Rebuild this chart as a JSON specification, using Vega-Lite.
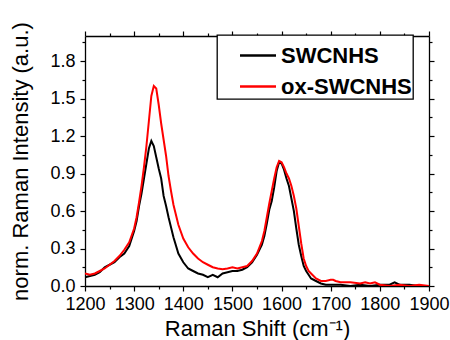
{
  "$schema": "https://vega.github.io/schema/vega-lite/v6.json",
  "width": 344,
  "height": 250,
  "autosize": {"type": "none"},
  "padding": {"left": 85, "top": 36, "right": 21, "bottom": 54},
  "background": "white",
  "config": {
    "view": {"stroke": null},
    "font": "Liberation Sans",
    "axis": {
      "labelFont": "Liberation Sans",
      "titleFont": "Liberation Sans",
      "labelFontSize": 18,
      "titleFontSize": 22,
      "titleFontWeight": "normal",
      "labelColor": "#000",
      "titleColor": "#000",
      "domainColor": "#000",
      "domainWidth": 1.3,
      "tickColor": "#000",
      "tickWidth": 1.2,
      "grid": false
    },
    "legend": {
      "labelFont": "Liberation Sans"
    }
  },
  "data": {
    "values": [
      {"shift": 1200, "intensity": 0.07, "series": "SWCNHS"},
      {"shift": 1210, "intensity": 0.08, "series": "SWCNHS"},
      {"shift": 1220, "intensity": 0.09, "series": "SWCNHS"},
      {"shift": 1230, "intensity": 0.11, "series": "SWCNHS"},
      {"shift": 1240, "intensity": 0.15, "series": "SWCNHS"},
      {"shift": 1250, "intensity": 0.17, "series": "SWCNHS"},
      {"shift": 1260, "intensity": 0.19, "series": "SWCNHS"},
      {"shift": 1270, "intensity": 0.23, "series": "SWCNHS"},
      {"shift": 1280, "intensity": 0.26, "series": "SWCNHS"},
      {"shift": 1290, "intensity": 0.32, "series": "SWCNHS"},
      {"shift": 1300, "intensity": 0.44, "series": "SWCNHS"},
      {"shift": 1305, "intensity": 0.52, "series": "SWCNHS"},
      {"shift": 1310, "intensity": 0.64, "series": "SWCNHS"},
      {"shift": 1315, "intensity": 0.74, "series": "SWCNHS"},
      {"shift": 1320, "intensity": 0.86, "series": "SWCNHS"},
      {"shift": 1325, "intensity": 0.98, "series": "SWCNHS"},
      {"shift": 1330, "intensity": 1.10, "series": "SWCNHS"},
      {"shift": 1335, "intensity": 1.16, "series": "SWCNHS"},
      {"shift": 1340, "intensity": 1.12, "series": "SWCNHS"},
      {"shift": 1345, "intensity": 1.03, "series": "SWCNHS"},
      {"shift": 1350, "intensity": 0.94, "series": "SWCNHS"},
      {"shift": 1355, "intensity": 0.86, "series": "SWCNHS"},
      {"shift": 1360, "intensity": 0.72, "series": "SWCNHS"},
      {"shift": 1365, "intensity": 0.64, "series": "SWCNHS"},
      {"shift": 1370, "intensity": 0.55, "series": "SWCNHS"},
      {"shift": 1380, "intensity": 0.39, "series": "SWCNHS"},
      {"shift": 1390, "intensity": 0.26, "series": "SWCNHS"},
      {"shift": 1400, "intensity": 0.19, "series": "SWCNHS"},
      {"shift": 1410, "intensity": 0.14, "series": "SWCNHS"},
      {"shift": 1420, "intensity": 0.12, "series": "SWCNHS"},
      {"shift": 1430, "intensity": 0.10, "series": "SWCNHS"},
      {"shift": 1440, "intensity": 0.09, "series": "SWCNHS"},
      {"shift": 1450, "intensity": 0.07, "series": "SWCNHS"},
      {"shift": 1460, "intensity": 0.09, "series": "SWCNHS"},
      {"shift": 1470, "intensity": 0.07, "series": "SWCNHS"},
      {"shift": 1480, "intensity": 0.10, "series": "SWCNHS"},
      {"shift": 1490, "intensity": 0.11, "series": "SWCNHS"},
      {"shift": 1500, "intensity": 0.12, "series": "SWCNHS"},
      {"shift": 1510, "intensity": 0.12, "series": "SWCNHS"},
      {"shift": 1520, "intensity": 0.13, "series": "SWCNHS"},
      {"shift": 1530, "intensity": 0.15, "series": "SWCNHS"},
      {"shift": 1540, "intensity": 0.19, "series": "SWCNHS"},
      {"shift": 1550, "intensity": 0.25, "series": "SWCNHS"},
      {"shift": 1560, "intensity": 0.33, "series": "SWCNHS"},
      {"shift": 1565, "intensity": 0.40, "series": "SWCNHS"},
      {"shift": 1570, "intensity": 0.50, "series": "SWCNHS"},
      {"shift": 1575, "intensity": 0.61, "series": "SWCNHS"},
      {"shift": 1580, "intensity": 0.68, "series": "SWCNHS"},
      {"shift": 1585, "intensity": 0.79, "series": "SWCNHS"},
      {"shift": 1590, "intensity": 0.92, "series": "SWCNHS"},
      {"shift": 1595, "intensity": 0.99, "series": "SWCNHS"},
      {"shift": 1600, "intensity": 0.98, "series": "SWCNHS"},
      {"shift": 1605, "intensity": 0.93, "series": "SWCNHS"},
      {"shift": 1610, "intensity": 0.86, "series": "SWCNHS"},
      {"shift": 1615, "intensity": 0.80, "series": "SWCNHS"},
      {"shift": 1620, "intensity": 0.70, "series": "SWCNHS"},
      {"shift": 1625, "intensity": 0.60, "series": "SWCNHS"},
      {"shift": 1630, "intensity": 0.46, "series": "SWCNHS"},
      {"shift": 1635, "intensity": 0.33, "series": "SWCNHS"},
      {"shift": 1640, "intensity": 0.24, "series": "SWCNHS"},
      {"shift": 1645, "intensity": 0.16, "series": "SWCNHS"},
      {"shift": 1650, "intensity": 0.12, "series": "SWCNHS"},
      {"shift": 1655, "intensity": 0.09, "series": "SWCNHS"},
      {"shift": 1660, "intensity": 0.06, "series": "SWCNHS"},
      {"shift": 1670, "intensity": 0.04, "series": "SWCNHS"},
      {"shift": 1680, "intensity": 0.02, "series": "SWCNHS"},
      {"shift": 1690, "intensity": 0.01, "series": "SWCNHS"},
      {"shift": 1700, "intensity": 0.01, "series": "SWCNHS"},
      {"shift": 1720, "intensity": 0.01, "series": "SWCNHS"},
      {"shift": 1740, "intensity": 0.00, "series": "SWCNHS"},
      {"shift": 1760, "intensity": 0.01, "series": "SWCNHS"},
      {"shift": 1780, "intensity": 0.00, "series": "SWCNHS"},
      {"shift": 1800, "intensity": 0.01, "series": "SWCNHS"},
      {"shift": 1820, "intensity": 0.01, "series": "SWCNHS"},
      {"shift": 1830, "intensity": 0.03, "series": "SWCNHS"},
      {"shift": 1840, "intensity": 0.01, "series": "SWCNHS"},
      {"shift": 1860, "intensity": 0.01, "series": "SWCNHS"},
      {"shift": 1880, "intensity": 0.00, "series": "SWCNHS"},
      {"shift": 1900, "intensity": 0.00, "series": "SWCNHS"},
      {"shift": 1200, "intensity": 0.10, "series": "ox-SWCNHS"},
      {"shift": 1210, "intensity": 0.09, "series": "ox-SWCNHS"},
      {"shift": 1220, "intensity": 0.10, "series": "ox-SWCNHS"},
      {"shift": 1230, "intensity": 0.12, "series": "ox-SWCNHS"},
      {"shift": 1240, "intensity": 0.14, "series": "ox-SWCNHS"},
      {"shift": 1250, "intensity": 0.17, "series": "ox-SWCNHS"},
      {"shift": 1260, "intensity": 0.20, "series": "ox-SWCNHS"},
      {"shift": 1270, "intensity": 0.24, "series": "ox-SWCNHS"},
      {"shift": 1280, "intensity": 0.29, "series": "ox-SWCNHS"},
      {"shift": 1290, "intensity": 0.35, "series": "ox-SWCNHS"},
      {"shift": 1300, "intensity": 0.46, "series": "ox-SWCNHS"},
      {"shift": 1305, "intensity": 0.55, "series": "ox-SWCNHS"},
      {"shift": 1310, "intensity": 0.67, "series": "ox-SWCNHS"},
      {"shift": 1315, "intensity": 0.80, "series": "ox-SWCNHS"},
      {"shift": 1320, "intensity": 0.95, "series": "ox-SWCNHS"},
      {"shift": 1325, "intensity": 1.12, "series": "ox-SWCNHS"},
      {"shift": 1330, "intensity": 1.32, "series": "ox-SWCNHS"},
      {"shift": 1335, "intensity": 1.52, "series": "ox-SWCNHS"},
      {"shift": 1340, "intensity": 1.60, "series": "ox-SWCNHS"},
      {"shift": 1345, "intensity": 1.58, "series": "ox-SWCNHS"},
      {"shift": 1350, "intensity": 1.45, "series": "ox-SWCNHS"},
      {"shift": 1355, "intensity": 1.30, "series": "ox-SWCNHS"},
      {"shift": 1360, "intensity": 1.17, "series": "ox-SWCNHS"},
      {"shift": 1365, "intensity": 1.04, "series": "ox-SWCNHS"},
      {"shift": 1370, "intensity": 0.88, "series": "ox-SWCNHS"},
      {"shift": 1375, "intensity": 0.76, "series": "ox-SWCNHS"},
      {"shift": 1380, "intensity": 0.65, "series": "ox-SWCNHS"},
      {"shift": 1390, "intensity": 0.49, "series": "ox-SWCNHS"},
      {"shift": 1400, "intensity": 0.38, "series": "ox-SWCNHS"},
      {"shift": 1410, "intensity": 0.31, "series": "ox-SWCNHS"},
      {"shift": 1420, "intensity": 0.26, "series": "ox-SWCNHS"},
      {"shift": 1430, "intensity": 0.22, "series": "ox-SWCNHS"},
      {"shift": 1440, "intensity": 0.19, "series": "ox-SWCNHS"},
      {"shift": 1450, "intensity": 0.17, "series": "ox-SWCNHS"},
      {"shift": 1460, "intensity": 0.15, "series": "ox-SWCNHS"},
      {"shift": 1470, "intensity": 0.14, "series": "ox-SWCNHS"},
      {"shift": 1480, "intensity": 0.135, "series": "ox-SWCNHS"},
      {"shift": 1490, "intensity": 0.14, "series": "ox-SWCNHS"},
      {"shift": 1500, "intensity": 0.15, "series": "ox-SWCNHS"},
      {"shift": 1510, "intensity": 0.14, "series": "ox-SWCNHS"},
      {"shift": 1520, "intensity": 0.15, "series": "ox-SWCNHS"},
      {"shift": 1530, "intensity": 0.16, "series": "ox-SWCNHS"},
      {"shift": 1540, "intensity": 0.20, "series": "ox-SWCNHS"},
      {"shift": 1550, "intensity": 0.26, "series": "ox-SWCNHS"},
      {"shift": 1560, "intensity": 0.36, "series": "ox-SWCNHS"},
      {"shift": 1565, "intensity": 0.44, "series": "ox-SWCNHS"},
      {"shift": 1570, "intensity": 0.55, "series": "ox-SWCNHS"},
      {"shift": 1575, "intensity": 0.66, "series": "ox-SWCNHS"},
      {"shift": 1580, "intensity": 0.76, "series": "ox-SWCNHS"},
      {"shift": 1585, "intensity": 0.86, "series": "ox-SWCNHS"},
      {"shift": 1590, "intensity": 0.95, "series": "ox-SWCNHS"},
      {"shift": 1595, "intensity": 1.00, "series": "ox-SWCNHS"},
      {"shift": 1600, "intensity": 0.99, "series": "ox-SWCNHS"},
      {"shift": 1605, "intensity": 0.95, "series": "ox-SWCNHS"},
      {"shift": 1610, "intensity": 0.90, "series": "ox-SWCNHS"},
      {"shift": 1615, "intensity": 0.86, "series": "ox-SWCNHS"},
      {"shift": 1620, "intensity": 0.80, "series": "ox-SWCNHS"},
      {"shift": 1625, "intensity": 0.72, "series": "ox-SWCNHS"},
      {"shift": 1630, "intensity": 0.62, "series": "ox-SWCNHS"},
      {"shift": 1635, "intensity": 0.48, "series": "ox-SWCNHS"},
      {"shift": 1640, "intensity": 0.34, "series": "ox-SWCNHS"},
      {"shift": 1645, "intensity": 0.22, "series": "ox-SWCNHS"},
      {"shift": 1650, "intensity": 0.16, "series": "ox-SWCNHS"},
      {"shift": 1655, "intensity": 0.12, "series": "ox-SWCNHS"},
      {"shift": 1660, "intensity": 0.10, "series": "ox-SWCNHS"},
      {"shift": 1670, "intensity": 0.06, "series": "ox-SWCNHS"},
      {"shift": 1680, "intensity": 0.04, "series": "ox-SWCNHS"},
      {"shift": 1690, "intensity": 0.04, "series": "ox-SWCNHS"},
      {"shift": 1700, "intensity": 0.05, "series": "ox-SWCNHS"},
      {"shift": 1705, "intensity": 0.05, "series": "ox-SWCNHS"},
      {"shift": 1710, "intensity": 0.04, "series": "ox-SWCNHS"},
      {"shift": 1720, "intensity": 0.03, "series": "ox-SWCNHS"},
      {"shift": 1740, "intensity": 0.03, "series": "ox-SWCNHS"},
      {"shift": 1760, "intensity": 0.02, "series": "ox-SWCNHS"},
      {"shift": 1770, "intensity": 0.03, "series": "ox-SWCNHS"},
      {"shift": 1780, "intensity": 0.02, "series": "ox-SWCNHS"},
      {"shift": 1790, "intensity": 0.03, "series": "ox-SWCNHS"},
      {"shift": 1800, "intensity": 0.01, "series": "ox-SWCNHS"},
      {"shift": 1820, "intensity": 0.00, "series": "ox-SWCNHS"},
      {"shift": 1840, "intensity": 0.01, "series": "ox-SWCNHS"},
      {"shift": 1860, "intensity": 0.00, "series": "ox-SWCNHS"},
      {"shift": 1880, "intensity": 0.01, "series": "ox-SWCNHS"},
      {"shift": 1900, "intensity": 0.00, "series": "ox-SWCNHS"}
    ]
  },
  "resolve": {"axis": {"x": "independent", "y": "independent"}},
  "layer": [
    {
      "transform": [{"filter": "datum.series === 'SWCNHS'"}],
      "mark": {"type": "line", "strokeWidth": 2, "clip": true},
      "encoding": {
        "x": {
          "field": "shift", "type": "quantitative",
          "scale": {"domain": [1200, 1900], "nice": false, "zero": false},
          "axis": {
            "orient": "bottom",
            "title": "Raman Shift (cm⁻¹)",
            "values": [1200, 1250, 1300, 1350, 1400, 1450, 1500, 1550, 1600, 1650, 1700, 1750, 1800, 1850, 1900],
            "labelExpr": "datum.value % 100 === 0 ? format(datum.value, 'd') : ''",
            "labelPadding": 4,
            "tickSize": {"condition": {"test": "datum.value % 100 === 0", "value": 5}, "value": 3},
            "titlePadding": 5,
            "labelFlush": false,
            "labelOverlap": false
          }
        },
        "y": {
          "field": "intensity", "type": "quantitative",
          "scale": {"domain": [0, 2.0], "nice": false, "zero": false},
          "axis": {
            "orient": "left",
            "title": "norm. Raman Intensity (a.u.)",
            "values": [0, 0.15, 0.3, 0.45, 0.6, 0.75, 0.9, 1.05, 1.2, 1.35, 1.5, 1.65, 1.8, 1.95],
            "labelExpr": "abs(datum.value*10/3 - round(datum.value*10/3)) < 0.01 ? format(datum.value, '.1f') : ''",
            "labelPadding": 5,
            "tickSize": {"condition": {"test": "abs(datum.value*10/3 - round(datum.value*10/3)) < 0.01", "value": 5}, "value": 3},
            "titlePadding": 17,
            "labelFlush": false,
            "labelOverlap": false
          }
        },
        "color": {
          "field": "series", "type": "nominal",
          "scale": {"domain": ["SWCNHS", "ox-SWCNHS"], "range": ["#000000", "#ff0000"]},
          "legend": {
            "title": null,
            "orient": "none",
            "legendX": 132,
            "legendY": -1,
            "direction": "vertical",
            "fillColor": "white",
            "strokeColor": "#000",
            "padding": 1,
            "symbolType": "stroke",
            "symbolSize": 1296,
            "symbolStrokeWidth": 2.5,
            "symbolOffset": 20.5,
            "labelFontSize": 22,
            "labelFontWeight": "bold",
            "labelColor": "#000",
            "labelOffset": 3.5,
            "rowPadding": -2.5,
            "labelExpr": "datum.label + '\u00a0\u00a0'",
            "encode": {"legend": {"update": {"strokeWidth": {"value": 1.3}}}}
          }
        }
      }
    },
    {
      "transform": [{"filter": "datum.series === 'ox-SWCNHS'"}],
      "mark": {"type": "line", "strokeWidth": 2, "clip": true},
      "encoding": {
        "x": {
          "field": "shift", "type": "quantitative",
          "axis": {
            "orient": "top",
            "title": null,
            "labels": false,
            "values": [1200, 1250, 1300, 1350, 1400, 1450, 1500, 1550, 1600, 1650, 1700, 1750, 1800, 1850, 1900],
            "tickSize": {"condition": {"test": "datum.value % 100 === 0", "value": 5}, "value": 3}
          }
        },
        "y": {
          "field": "intensity", "type": "quantitative",
          "axis": {
            "orient": "right",
            "title": null,
            "labels": false,
            "values": [0, 0.15, 0.3, 0.45, 0.6, 0.75, 0.9, 1.05, 1.2, 1.35, 1.5, 1.65, 1.8, 1.95],
            "tickSize": {"condition": {"test": "abs(datum.value*10/3 - round(datum.value*10/3)) < 0.01", "value": 5}, "value": 3}
          }
        },
        "color": {"field": "series", "type": "nominal"}
      }
    }
  ]
}
